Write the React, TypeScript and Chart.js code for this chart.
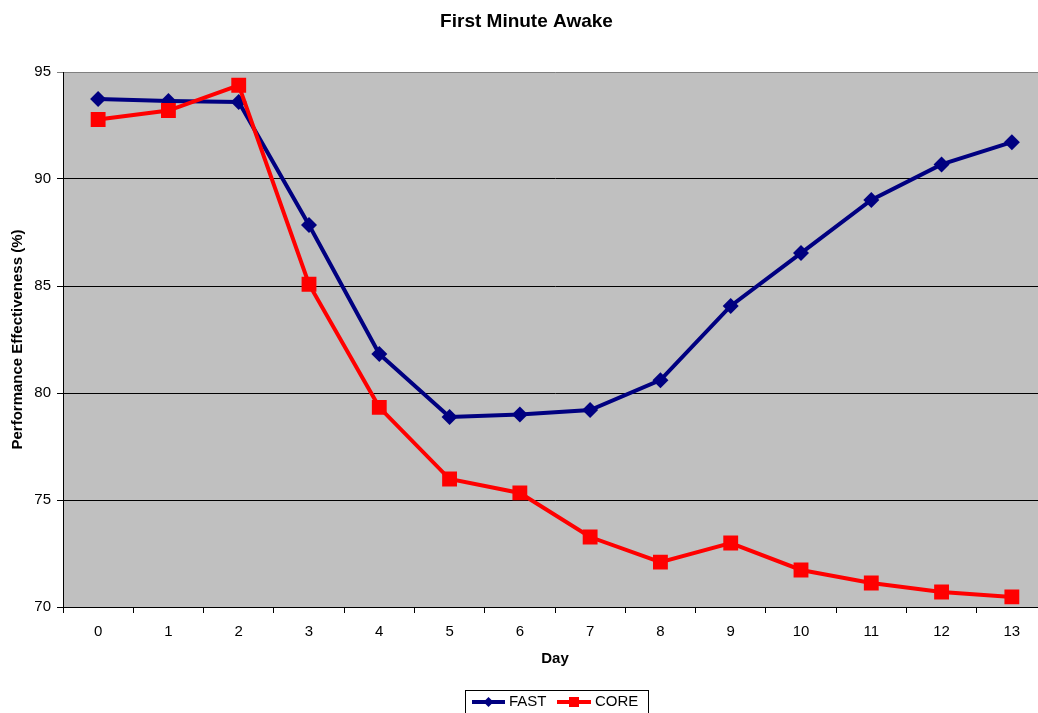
import React, { useEffect, useRef } from "react";
import { Chart, registerables } from "chart.js";

Chart.register(...registerables);

const days = ["0", "1", "2", "3", "4", "5", "6", "7", "8", "9", "10", "11", "12", "13"];
const fastValues = [93.74, 93.65, 93.6, 87.85, 81.82, 78.88, 79.0, 79.2, 80.6, 84.07, 86.54, 89.02, 90.68, 91.72];
const coreValues = [92.78, 93.2, 94.38, 85.08, 79.33, 75.98, 75.33, 73.27, 72.1, 72.99, 71.73, 71.12, 70.7, 70.47];
const yTicks = [70, 75, 80, 85, 90, 95];

const FONT = "'Liberation Sans', Arial, sans-serif";
const NAVY = "#000080";
const RED = "#FF0000";

const plotBgPlugin = {
  id: "plotBg",
  beforeDraw(chart: any) {
    const { ctx, chartArea } = chart;
    ctx.save();
    ctx.fillStyle = "#C0C0C0";
    ctx.fillRect(chartArea.left, chartArea.top, chartArea.right - chartArea.left, chartArea.bottom - chartArea.top);
    ctx.restore();
  },
};

const legendPlugin = {
  id: "boxLegend",
  afterDraw(chart: any) {
    const { ctx, chartArea } = chart;
    const cx = (chartArea.left + chartArea.right) / 2;
    const top = 690;
    const midY = 702;
    ctx.save();
    ctx.strokeStyle = "#000";
    ctx.lineWidth = 1;
    ctx.strokeRect(Math.round(cx - 90) + 0.5, top + 0.5, 183, 30);
    // FAST
    ctx.strokeStyle = NAVY;
    ctx.lineWidth = 4;
    ctx.beginPath();
    ctx.moveTo(cx - 83, midY);
    ctx.lineTo(cx - 50, midY);
    ctx.stroke();
    ctx.fillStyle = NAVY;
    const dx = cx - 66.5;
    ctx.beginPath();
    ctx.moveTo(dx, midY - 5);
    ctx.lineTo(dx + 5, midY);
    ctx.lineTo(dx, midY + 5);
    ctx.lineTo(dx - 5, midY);
    ctx.closePath();
    ctx.fill();
    // CORE
    ctx.strokeStyle = RED;
    ctx.beginPath();
    ctx.moveTo(cx + 2, midY);
    ctx.lineTo(cx + 36, midY);
    ctx.stroke();
    ctx.fillStyle = RED;
    ctx.fillRect(cx + 19 - 5, midY - 5, 10, 10);
    // text
    ctx.fillStyle = "#000";
    ctx.font = `15px ${FONT}`;
    ctx.textBaseline = "middle";
    ctx.textAlign = "left";
    ctx.fillText("FAST", cx - 46, midY);
    ctx.fillText("CORE", cx + 40, midY);
    ctx.restore();
  },
};

export default function App() {
  const canvasRef = useRef<HTMLCanvasElement | null>(null);

  useEffect(() => {
    if (!canvasRef.current) return;
    const chart = new Chart(canvasRef.current, {
      type: "line",
      data: {
        labels: days,
        datasets: [
          {
            label: "FAST",
            data: fastValues,
            borderColor: NAVY,
            backgroundColor: NAVY,
            borderWidth: 4,
            pointStyle: "rectRot",
            pointRadius: 8,
            pointBorderWidth: 0,
            pointBackgroundColor: NAVY,
            tension: 0,
            order: 1,
          },
          {
            label: "CORE",
            data: coreValues,
            borderColor: RED,
            backgroundColor: RED,
            borderWidth: 4,
            pointStyle: "rect",
            pointRadius: 10.5,
            pointBorderWidth: 0,
            pointBackgroundColor: RED,
            tension: 0,
            order: 0,
          },
        ],
      },
      options: {
        animation: false,
        responsive: false,
        maintainAspectRatio: false,
        layout: { autoPadding: false, padding: { left: 6, right: 5, top: 0, bottom: 40 } },
        plugins: {
          legend: { display: false },
          tooltip: { enabled: false },
          title: {
            display: true,
            text: "First Minute Awake",
            color: "#000",
            font: { family: FONT, size: 19, weight: "bold" },
            padding: { top: 10.5, bottom: 38.7 },
          },
        },
        scales: {
          x: {
            type: "category",
            offset: true,
            grid: {
              offset: true,
              drawOnChartArea: false,
              drawTicks: true,
              tickLength: 6,
              color: "#000",
            },
            border: { display: true, color: "#000", width: 1 },
            ticks: {
              color: "#000",
              font: { family: FONT, size: 15 },
              padding: 10,
              maxRotation: 0,
            },
            title: {
              display: true,
              text: "Day",
              color: "#000",
              font: { family: FONT, size: 15, weight: "bold" },
              padding: { top: 0, bottom: 5 },
            },
            afterFit(scale: any) {
              scale.height = 66;
              scale.paddingLeft = 0;
              scale.paddingRight = 0;
            },
          },
          y: {
            min: 70,
            max: 95,
            afterBuildTicks(scale: any) {
              scale.ticks = yTicks.map((v) => ({ value: v }));
            },
            grid: {
              color: (c: any) => (c.tick && c.tick.value === 95 ? "#808080" : "#000"),
              lineWidth: 1,
              drawTicks: true,
              tickLength: 6,
            },
            border: { display: true, color: "#000", width: 1 },
            ticks: {
              color: "#000",
              font: { family: FONT, size: 15 },
              padding: 6,
            },
            title: {
              display: true,
              text: "Performance Effectiveness (%)",
              color: "#000",
              font: { family: FONT, size: 15, weight: "bold" },
              padding: { top: 3, bottom: 0 },
            },
            afterFit(scale: any) {
              scale.width = 57;
            },
          },
        },
      },
      plugins: [plotBgPlugin, legendPlugin],
    });
    return () => chart.destroy();
  }, []);

  return (
    <div style={{ position: "fixed", left: 0, top: 0, width: 1038, height: 713, overflow: "hidden", background: "#fff" }}>
      <canvas ref={canvasRef} width={1052} height={713} style={{ display: "block", width: 1052, height: 713 }} />
    </div>
  );
}
